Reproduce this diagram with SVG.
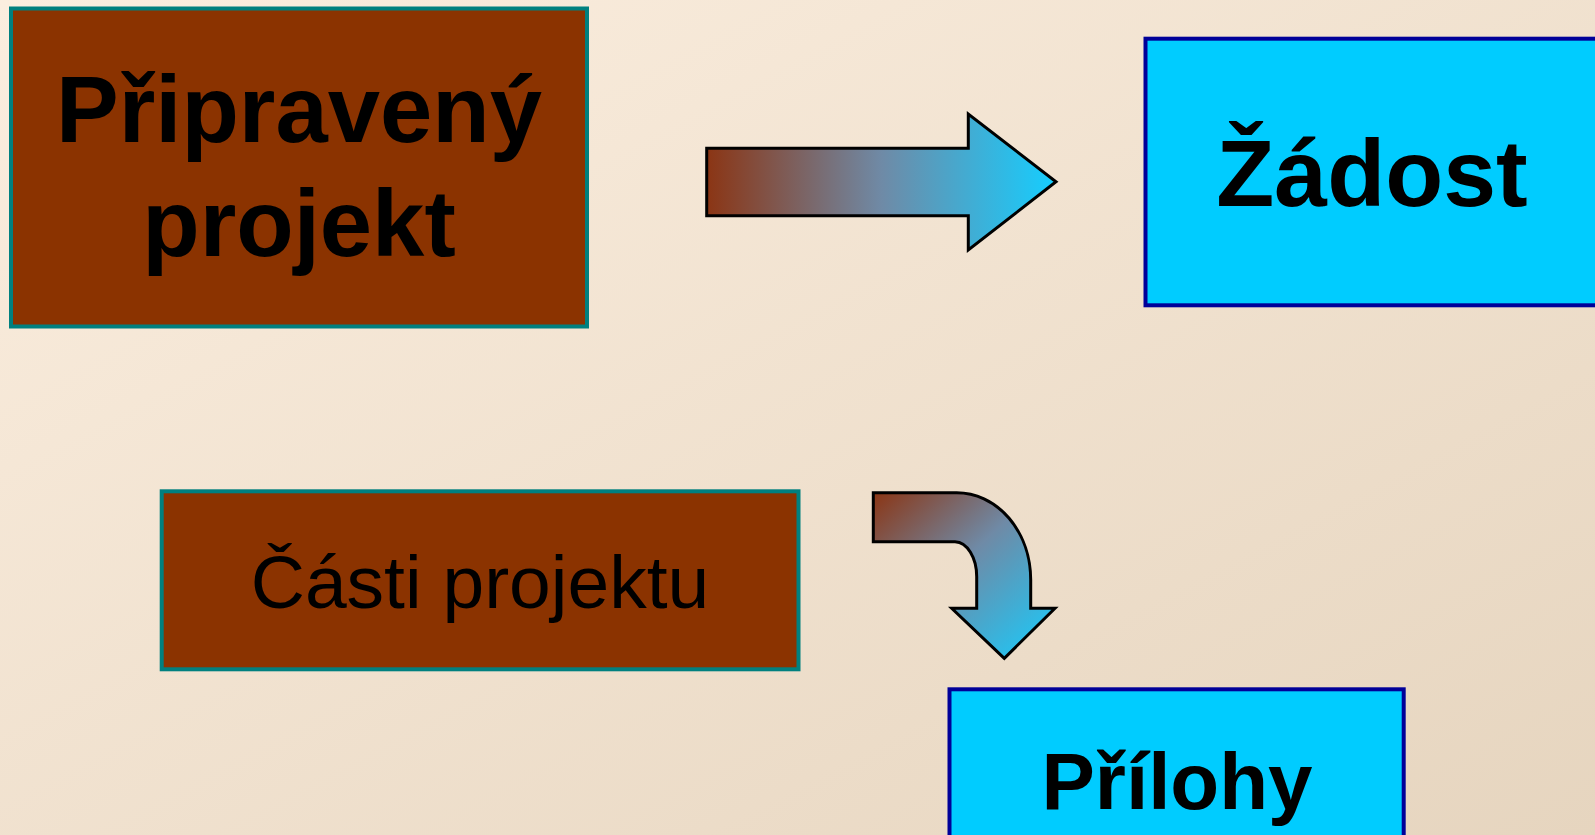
<svg xmlns="http://www.w3.org/2000/svg" width="1595" height="835" viewBox="0 0 1595 835">
<defs>
<linearGradient id="bg" x1="0" y1="0" x2="1" y2="1">
<stop offset="0" stop-color="#FBEEDF"/>
<stop offset="1" stop-color="#E6D5BF"/>
</linearGradient>
<linearGradient id="g1" x1="0" y1="0" x2="1" y2="0">
<stop offset="0" stop-color="#8B3514"/>
<stop offset="0.5" stop-color="#6F8AA6"/>
<stop offset="1" stop-color="#15CEFF"/>
</linearGradient>
<linearGradient id="g2" x1="0" y1="0" x2="1" y2="1">
<stop offset="0" stop-color="#8B3514"/>
<stop offset="0.45" stop-color="#6F8AA6"/>
<stop offset="1" stop-color="#15CEFF"/>
</linearGradient>
<style>
.brown{fill:#8B3300;stroke:#00807F;stroke-width:4}
.cyan{fill:#00CCFF;stroke:#000099;stroke-width:4}
.big{font-family:"Liberation Sans",Arial,sans-serif;font-weight:bold;font-size:95px;fill:#000;text-anchor:middle}
.mid{font-family:"Liberation Sans",Arial,sans-serif;font-size:75px;fill:#000;text-anchor:middle}
.arrow{stroke:#000;stroke-width:3;stroke-linejoin:miter}
</style>
</defs>
<rect width="1595" height="835" fill="url(#bg)"/>
<g id="node-pripraveny">
<rect class="brown" x="11" y="8.5" width="576" height="318"/>
<text class="big" x="299" y="142" style="font-size:94px">Připravený</text>
<text class="big" x="299" y="256" style="font-size:94px">projekt</text>
</g>
<g id="node-zadost">
<rect class="cyan" x="1145.5" y="38.7" width="460" height="266.6"/>
<text class="big" x="1372" y="206">Žádost</text>
</g>
<g id="node-casti">
<rect class="brown" x="161.7" y="491.3" width="636.8" height="178"/>
<text class="mid" x="480" y="608">Části projektu</text>
</g>
<g id="node-prilohy">
<rect class="cyan" x="949.5" y="689.3" width="454.2" height="160"/>
<text class="big" style="font-size:80px" x="1177" y="809">Přílohy</text>
</g>
<g id="connectors">
<path class="arrow" fill="url(#g1)" d="M706.7,148.3 H968.3 V114 L1056,181.7 L968.3,250 V215.7 H706.7 Z"/>
<path class="arrow" fill="url(#g2)" d="M873.3,492.7 H956.7 A74,87 0 0 1 1030.7,580 V608.3 H1055 L1004.3,658.3 L951.7,608.3 H976.7 V577 A22,35 0 0 0 955,541.7 H873.3 Z"/>
</g>
</svg>
